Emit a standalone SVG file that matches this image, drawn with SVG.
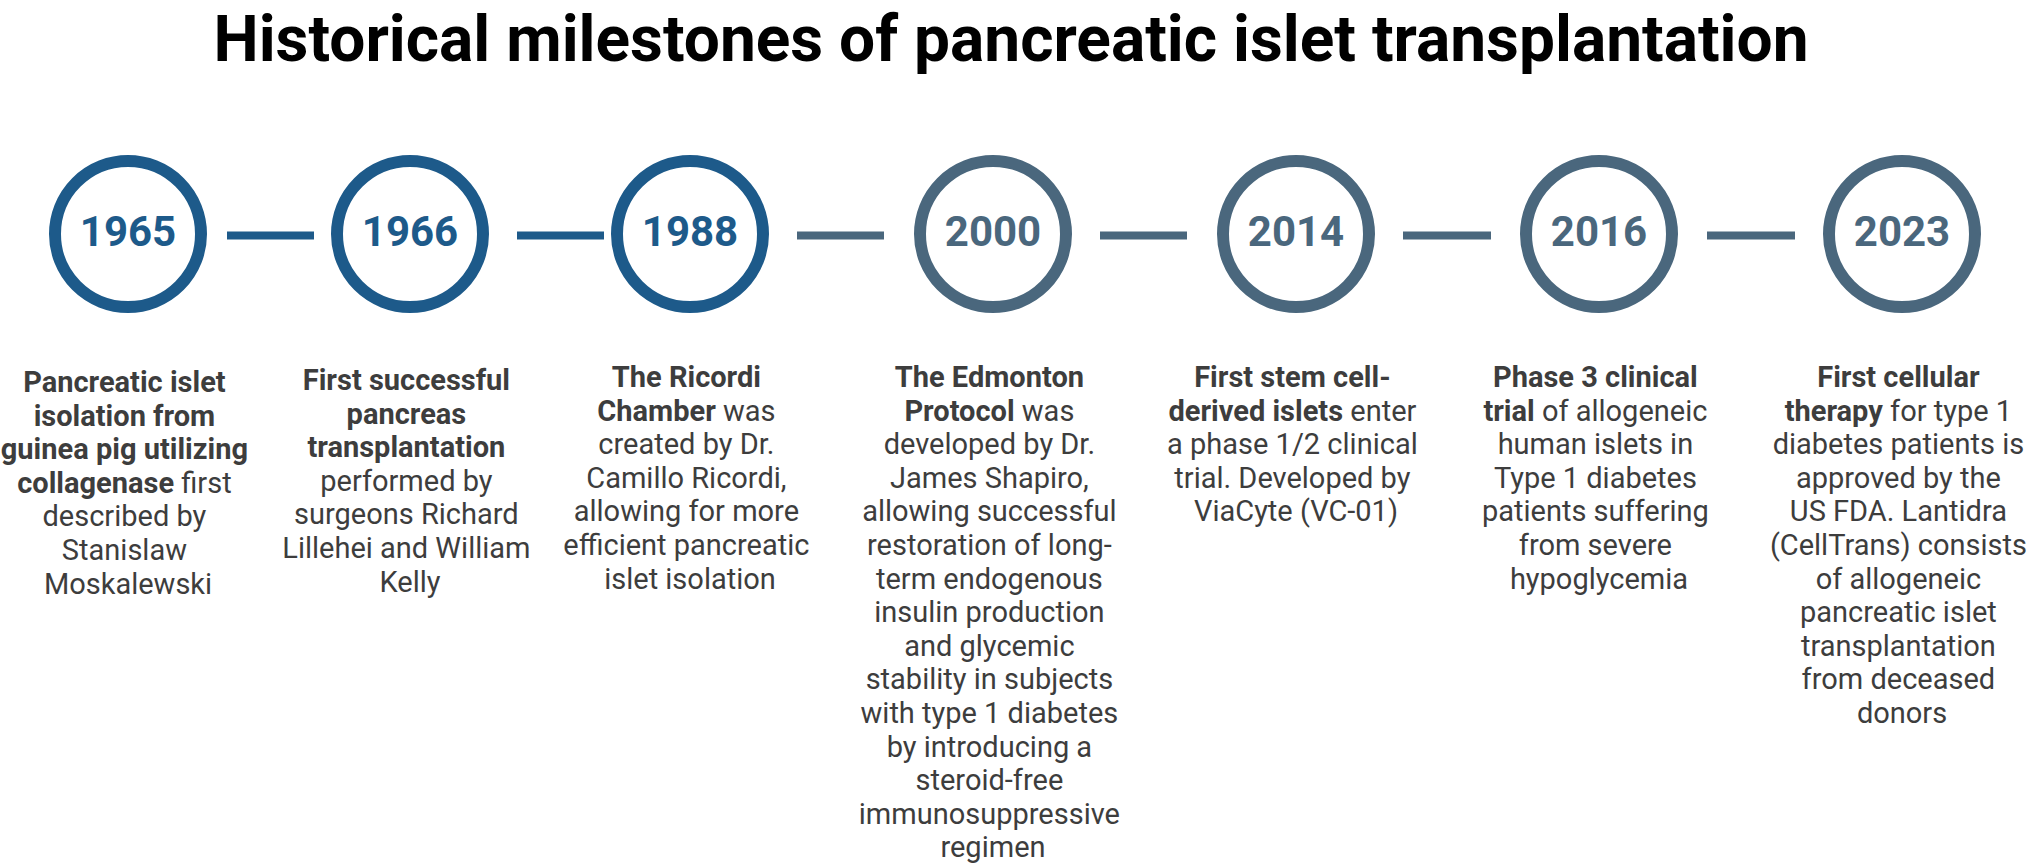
<svg xmlns="http://www.w3.org/2000/svg" width="2032" height="864" viewBox="0 0 2032 864">
<style>
.title{font-family:Roboto,"Liberation Sans",sans-serif;font-weight:700;font-size:64px;fill:#000;text-anchor:middle}
.ring{fill:#fff;stroke-width:12}
.yr{font-family:Roboto,"Liberation Sans",sans-serif;font-weight:700;font-size:42px;text-anchor:middle}
.blue .ring{stroke:#1d5a8a}
.blue .yr{fill:#1d5a8a}
.slate .ring{stroke:#4a677d}
.slate .yr{fill:#4a677d}
.desc{font-family:Roboto,"Liberation Sans",sans-serif;font-size:29px;fill:#3d3d3d;text-anchor:middle}
.b{font-weight:700}
.con line{stroke-width:8}
.cb{stroke:#1d5a8a}
.cs{stroke:#4a677d}
</style>
<rect width="2032" height="864" fill="#fff"/>
<text class="title" x="1011" y="61">Historical milestones of pancreatic islet transplantation</text>

<g id="connectors" class="con">
<line class="cb" x1="227" y1="235.5" x2="314" y2="235.5"/>
<line class="cb" x1="517" y1="235.5" x2="604" y2="235.5"/>
<line class="cs" x1="797" y1="235.5" x2="884" y2="235.5"/>
<line class="cs" x1="1100" y1="235.5" x2="1187" y2="235.5"/>
<line class="cs" x1="1403" y1="235.5" x2="1491" y2="235.5"/>
<line class="cs" x1="1707" y1="235.5" x2="1795" y2="235.5"/>
</g>

<g id="m1965" class="blue">
<circle class="ring" cx="128" cy="234" r="73"/>
<text class="yr" x="128" y="246">1965</text>
<text class="desc" y="392">
<tspan x="128" class="b">Pancreatic islet</tspan>
<tspan x="128" dy="33.6" class="b">isolation from</tspan>
<tspan x="128" dy="33.6" class="b">guinea pig utilizing</tspan>
<tspan x="128" dy="33.6" class="b">collagenase</tspan><tspan> first</tspan>
<tspan x="128" dy="33.6">described by</tspan>
<tspan x="128" dy="33.6">Stanislaw</tspan>
<tspan x="128" dy="33.6">Moskalewski</tspan>
</text>
</g>

<g id="m1966" class="blue">
<circle class="ring" cx="410" cy="234" r="73"/>
<text class="yr" x="410" y="246">1966</text>
<text class="desc" y="390">
<tspan x="410" class="b">First successful</tspan>
<tspan x="410" dy="33.6" class="b">pancreas</tspan>
<tspan x="410" dy="33.6" class="b">transplantation</tspan>
<tspan x="410" dy="33.6">performed by</tspan>
<tspan x="410" dy="33.6">surgeons Richard</tspan>
<tspan x="410" dy="33.6">Lillehei and William</tspan>
<tspan x="410" dy="33.6">Kelly</tspan>
</text>
</g>

<g id="m1988" class="blue">
<circle class="ring" cx="690" cy="234" r="73"/>
<text class="yr" x="690" y="246">1988</text>
<text class="desc" y="387">
<tspan x="690" class="b">The Ricordi</tspan>
<tspan x="690" dy="33.6" class="b">Chamber</tspan><tspan> was</tspan>
<tspan x="690" dy="33.6">created by Dr.</tspan>
<tspan x="690" dy="33.6">Camillo Ricordi,</tspan>
<tspan x="690" dy="33.6">allowing for more</tspan>
<tspan x="690" dy="33.6">efficient pancreatic</tspan>
<tspan x="690" dy="33.6">islet isolation</tspan>
</text>
</g>

<g id="m2000" class="slate">
<circle class="ring" cx="993" cy="234" r="73"/>
<text class="yr" x="993" y="246">2000</text>
<text class="desc" y="387">
<tspan x="993" class="b">The Edmonton</tspan>
<tspan x="993" dy="33.6" class="b">Protocol</tspan><tspan> was</tspan>
<tspan x="993" dy="33.6">developed by Dr.</tspan>
<tspan x="993" dy="33.6">James Shapiro,</tspan>
<tspan x="993" dy="33.6">allowing successful</tspan>
<tspan x="993" dy="33.6">restoration of long-</tspan>
<tspan x="993" dy="33.6">term endogenous</tspan>
<tspan x="993" dy="33.6">insulin production</tspan>
<tspan x="993" dy="33.6">and glycemic</tspan>
<tspan x="993" dy="33.6">stability in subjects</tspan>
<tspan x="993" dy="33.6">with type 1 diabetes</tspan>
<tspan x="993" dy="33.6">by introducing a</tspan>
<tspan x="993" dy="33.6">steroid-free</tspan>
<tspan x="993" dy="33.6">immunosuppressive</tspan>
<tspan x="993" dy="33.6">regimen</tspan>
</text>
</g>

<g id="m2014" class="slate">
<circle class="ring" cx="1296" cy="234" r="73"/>
<text class="yr" x="1296" y="246">2014</text>
<text class="desc" y="387">
<tspan x="1296" class="b">First stem cell-</tspan>
<tspan x="1296" dy="33.6" class="b">derived islets</tspan><tspan> enter</tspan>
<tspan x="1296" dy="33.6">a phase 1/2 clinical</tspan>
<tspan x="1296" dy="33.6">trial. Developed by</tspan>
<tspan x="1296" dy="33.6">ViaCyte (VC-01)</tspan>
</text>
</g>

<g id="m2016" class="slate">
<circle class="ring" cx="1599" cy="234" r="73"/>
<text class="yr" x="1599" y="246">2016</text>
<text class="desc" y="387">
<tspan x="1599" class="b">Phase 3 clinical</tspan>
<tspan x="1599" dy="33.6" class="b">trial</tspan><tspan> of allogeneic</tspan>
<tspan x="1599" dy="33.6">human islets in</tspan>
<tspan x="1599" dy="33.6">Type 1 diabetes</tspan>
<tspan x="1599" dy="33.6">patients suffering</tspan>
<tspan x="1599" dy="33.6">from severe</tspan>
<tspan x="1599" dy="33.6">hypoglycemia</tspan>
</text>
</g>

<g id="m2023" class="slate">
<circle class="ring" cx="1902" cy="234" r="73"/>
<text class="yr" x="1902" y="246">2023</text>
<text class="desc" y="387">
<tspan x="1902" class="b">First cellular</tspan>
<tspan x="1902" dy="33.6" class="b">therapy</tspan><tspan> for type 1</tspan>
<tspan x="1902" dy="33.6">diabetes patients is</tspan>
<tspan x="1902" dy="33.6">approved by the</tspan>
<tspan x="1902" dy="33.6">US FDA. Lantidra</tspan>
<tspan x="1902" dy="33.6">(CellTrans) consists</tspan>
<tspan x="1902" dy="33.6">of allogeneic</tspan>
<tspan x="1902" dy="33.6">pancreatic islet</tspan>
<tspan x="1902" dy="33.6">transplantation</tspan>
<tspan x="1902" dy="33.6">from deceased</tspan>
<tspan x="1902" dy="33.6">donors</tspan>
</text>
</g>
</svg>
